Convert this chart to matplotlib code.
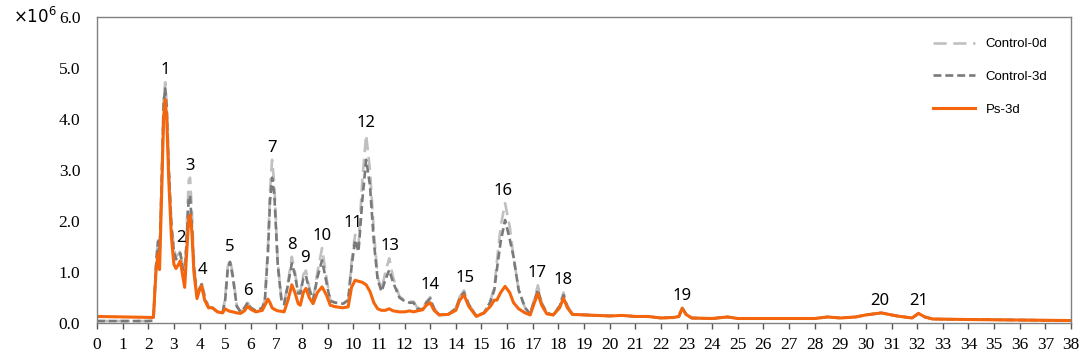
import matplotlib
matplotlib.use('Agg')
import matplotlib.pyplot as plt

# retention time (min) and signal (x10^6)
rt = [0.0, 1.0, 2.0, 2.2, 2.3, 2.38, 2.44, 2.52, 2.6, 2.66, 2.72, 2.8, 2.9, 3.0, 3.08,
      3.18, 3.25, 3.32, 3.42, 3.5, 3.58, 3.63, 3.7, 3.78, 3.9, 4.0, 4.08, 4.2, 4.35, 4.5,
      4.7, 4.9, 5.0, 5.1, 5.19, 5.3, 5.45, 5.6, 5.75, 5.88, 6.0, 6.2, 6.45, 6.55, 6.67,
      6.75, 6.83, 6.92, 7.05, 7.2, 7.3, 7.45, 7.6, 7.72, 7.85, 7.93, 8.05, 8.15, 8.28, 8.43,
      8.6, 8.78, 8.95, 9.1, 9.3, 9.6, 9.8, 9.93, 10.07, 10.2, 10.35, 10.5, 10.65, 10.8, 10.95,
      11.1, 11.25, 11.4, 11.55, 11.8, 12.0, 12.2, 12.35, 12.5, 12.7, 12.85, 13.0, 13.15, 13.35, 13.7,
      14.0, 14.15, 14.32, 14.5, 14.8, 15.1, 15.35, 15.5, 15.6, 15.75, 15.92, 16.1, 16.25, 16.45, 16.7,
      16.9, 17.05, 17.2, 17.35, 17.55, 17.8, 18.05, 18.2, 18.35, 18.55, 19.0, 19.5, 20.0, 20.5, 21.0,
      21.5, 22.0, 22.5, 22.7, 22.83, 22.98, 23.2, 24.0, 24.6, 25.0, 26.0, 27.0, 28.0, 28.5, 29.0,
      29.6, 30.0, 30.6, 31.2, 31.8, 32.05, 32.3, 32.6, 34.0, 36.0, 38.0]

control_0d = [0.04, 0.04, 0.04, 0.05, 1.2, 1.65, 1.35, 2.8, 4.4, 4.72, 4.3, 3.1, 2.0, 1.45, 1.3,
              1.35, 1.42, 1.2, 0.85, 1.9, 2.8, 2.85, 2.2, 1.2, 0.55, 0.72, 0.8, 0.55, 0.32, 0.3,
              0.22, 0.2, 0.5, 1.1, 1.25, 0.95, 0.35, 0.22, 0.3, 0.4, 0.3, 0.24, 0.3, 0.45, 1.5,
              2.6, 3.2, 2.7, 1.2, 0.45, 0.38, 0.8, 1.3, 1.0, 0.6, 0.6, 0.95, 1.03, 0.7, 0.45,
              1.0, 1.47, 0.9, 0.45, 0.4, 0.38, 0.45, 1.2, 1.73, 1.5, 2.8, 3.69, 3.0, 1.8, 0.9,
              0.65, 1.0, 1.27, 0.9, 0.52, 0.45, 0.42, 0.42, 0.3, 0.28, 0.42, 0.51, 0.3, 0.16, 0.17,
              0.3, 0.52, 0.64, 0.38, 0.14, 0.2, 0.45, 0.7, 1.2, 1.9, 2.35, 1.9, 1.3, 0.65, 0.3,
              0.18, 0.45, 0.74, 0.4, 0.2, 0.16, 0.35, 0.6, 0.35, 0.17, 0.16, 0.15, 0.14, 0.15, 0.13,
              0.13, 0.1, 0.11, 0.13, 0.3, 0.18, 0.1, 0.09, 0.12, 0.09, 0.09, 0.09, 0.09, 0.12, 0.1,
              0.12, 0.16, 0.2, 0.14, 0.1, 0.19, 0.12, 0.08, 0.07, 0.06, 0.05]

control_3d = [0.04, 0.04, 0.04, 0.05, 1.1, 1.6, 1.3, 2.7, 4.3, 4.62, 4.2, 3.0, 1.9, 1.4, 1.25,
              1.3, 1.37, 1.15, 0.8, 1.7, 2.45, 2.5, 1.9, 1.1, 0.52, 0.68, 0.76, 0.5, 0.3, 0.3,
              0.22, 0.2, 0.45, 1.05, 1.2, 0.9, 0.33, 0.22, 0.3, 0.4, 0.3, 0.24, 0.3, 0.45, 1.4,
              2.4, 2.85, 2.5, 1.15, 0.42, 0.37, 0.75, 1.17, 0.95, 0.58, 0.58, 0.88, 0.93, 0.65, 0.45,
              0.9, 1.23, 0.8, 0.43, 0.4, 0.38, 0.45, 1.1, 1.63, 1.4, 2.4, 3.2, 2.7, 1.6, 0.85,
              0.62, 0.85, 1.04, 0.8, 0.5, 0.43, 0.4, 0.4, 0.28, 0.27, 0.4, 0.48, 0.28, 0.16, 0.17,
              0.28, 0.5, 0.6, 0.36, 0.14, 0.2, 0.42, 0.65, 1.05, 1.6, 2.02, 1.65, 1.3, 0.65, 0.3,
              0.18, 0.42, 0.66, 0.38, 0.2, 0.16, 0.33, 0.55, 0.32, 0.17, 0.16, 0.15, 0.14, 0.15, 0.13,
              0.13, 0.1, 0.11, 0.13, 0.3, 0.18, 0.1, 0.09, 0.12, 0.09, 0.09, 0.09, 0.09, 0.12, 0.1,
              0.12, 0.16, 0.2, 0.14, 0.1, 0.19, 0.12, 0.08, 0.07, 0.06, 0.05]

ps_3d = [0.13, 0.12, 0.11, 0.11, 1.0, 1.37, 1.05, 2.5, 4.05, 4.38, 4.0, 2.8, 1.7, 1.15, 1.07,
         1.15, 1.22, 1.0, 0.7, 1.4, 2.05, 2.12, 1.8, 1.0, 0.48, 0.65, 0.73, 0.45, 0.3, 0.3,
         0.22, 0.2, 0.28, 0.25, 0.23, 0.22, 0.2, 0.19, 0.24, 0.33, 0.27, 0.22, 0.25, 0.35, 0.47,
         0.4, 0.3, 0.27, 0.24, 0.23, 0.22, 0.45, 0.75, 0.6, 0.38, 0.35, 0.6, 0.68, 0.5, 0.38,
         0.6, 0.71, 0.55, 0.35, 0.32, 0.3, 0.32, 0.7, 0.84, 0.82, 0.8, 0.75, 0.62, 0.4, 0.28,
         0.25, 0.25, 0.28, 0.24, 0.22, 0.22, 0.24, 0.22, 0.24, 0.26, 0.35, 0.4, 0.25, 0.16, 0.17,
         0.25, 0.45, 0.55, 0.33, 0.13, 0.2, 0.33, 0.45, 0.45, 0.6, 0.72, 0.6, 0.4, 0.28, 0.2,
         0.16, 0.38, 0.58, 0.35, 0.18, 0.16, 0.3, 0.49, 0.3, 0.17, 0.16, 0.15, 0.14, 0.15, 0.13,
         0.13, 0.1, 0.11, 0.13, 0.29, 0.17, 0.1, 0.09, 0.12, 0.09, 0.09, 0.09, 0.09, 0.12, 0.1,
         0.12, 0.16, 0.2, 0.14, 0.1, 0.19, 0.12, 0.08, 0.07, 0.06, 0.05]

# numbered peaks: retention time and top of the Control-0d trace
peak_ids = list(range(1, 22))
peak_rt = [2.66, 3.28, 3.63, 4.12, 5.19, 5.88, 6.83, 7.6, 8.12, 8.78, 9.98, 10.5, 11.45,
           13.0, 14.35, 15.85, 17.18, 18.2, 22.83, 30.55, 32.05]
peak_top = [4.72, 1.42, 2.85, 0.8, 1.25, 0.4, 3.2, 1.3, 1.03, 1.47, 1.73, 3.69, 1.27,
            0.51, 0.64, 2.35, 0.74, 0.6, 0.3, 0.2, 0.19]

fig = plt.figure(figsize=(10.84, 3.61), dpi=100)
ax = fig.add_axes([0.0895, 0.105, 0.8985, 0.848])

ax.plot(rt, control_0d, color='#c0c0c0', lw=1.9, dashes=(5, 2.5), label='Control-0d')
ax.plot(rt, control_3d, color='#7a7a7a', lw=1.9, dashes=(3, 1.5), label='Control-3d')
ax.plot(rt, ps_3d, color='#f5650c', lw=2.2, label='Ps-3d')

for n, x, y in zip(peak_ids, peak_rt, peak_top):
    ax.annotate(str(n), (x, y), xytext=(0, 3), textcoords='offset points',
                ha='center', va='bottom', fontsize=12, family='Noto Sans')

ax.set_xlim(0, 38)
ax.set_ylim(0, 6.0)
ax.set_xticks(range(0, 39))
ax.set_yticks([0, 1, 2, 3, 4, 5, 6])
ax.set_yticklabels(['%.1f' % v for v in [0, 1, 2, 3, 4, 5, 6]])
for lab in ax.get_xticklabels() + ax.get_yticklabels():
    lab.set_family('Liberation Serif')
    lab.set_fontsize(12.5)
ax.tick_params(axis='x', direction='out', length=4, width=1, color='#555555', pad=6)
ax.tick_params(axis='y', length=0, pad=12)
for s in ax.spines.values():
    s.set_color('#808080')
    s.set_linewidth(1)

fig.text(0.012, 0.953, r'$\times10^{6}$', fontsize=12, va='center', ha='left',
         family='DejaVu Sans')

leg = ax.legend(loc='upper right', frameon=False, handlelength=3.2,
                labelspacing=1.55, bbox_to_anchor=(0.988, 0.97),
                prop={'family': 'Liberation Sans', 'size': 9.5})

fig.savefig('out.png', dpi=100)
